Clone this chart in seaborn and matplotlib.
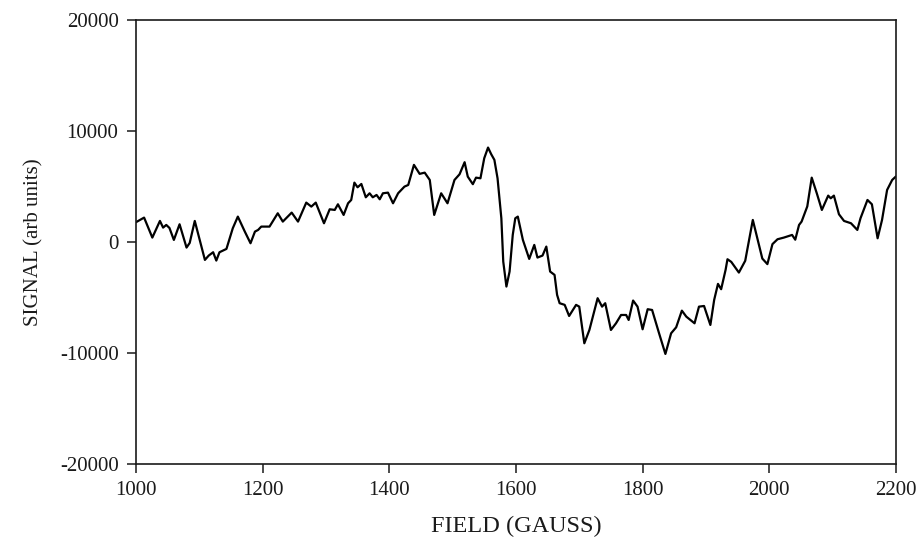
import matplotlib
matplotlib.use("Agg")
import matplotlib.pyplot as plt
import seaborn as sns
import pandas as pd

# Magnetic field sweep (gauss) and recorded signal (arbitrary units)
field = [
    1000, 1013, 1026, 1038, 1043, 1048, 1053, 1060, 1069, 1080, 1085, 1093,
    1109, 1115, 1122, 1127, 1132, 1143, 1153, 1161, 1172, 1181, 1188, 1193,
    1198, 1211, 1224, 1232, 1240, 1246, 1256, 1269, 1277, 1284, 1297, 1306,
    1314, 1319, 1328, 1335, 1340, 1345, 1350, 1356, 1363, 1369, 1374, 1380,
    1385, 1390, 1398, 1406, 1414, 1424, 1430, 1439, 1448, 1456, 1464, 1471,
    1482, 1492, 1503, 1511, 1519, 1524, 1532, 1537, 1544, 1550, 1556, 1561,
    1566, 1571, 1577, 1580, 1585, 1590, 1595, 1599, 1603, 1611, 1621, 1629,
    1634, 1642, 1648, 1654, 1661, 1665, 1669, 1677, 1684, 1695, 1700, 1708,
    1716, 1729, 1736, 1741, 1750, 1758, 1766, 1774, 1778, 1785, 1792, 1800,
    1808, 1815, 1826, 1836, 1845, 1853, 1862, 1869, 1882, 1889, 1897, 1907,
    1913, 1919, 1924, 1931, 1934, 1940, 1952, 1962, 1974, 1989, 1997, 2005,
    2013, 2023, 2033, 2036, 2041, 2047, 2051, 2060, 2067, 2075, 2083, 2093,
    2097, 2102, 2110, 2118, 2129, 2139, 2144, 2155, 2162, 2171, 2178, 2186,
    2194, 2198, 2200,
]
signal = [
    1770, 2190, 390, 1890, 1290, 1530, 1260, 180, 1590, -510, -90, 1890,
    -1620, -1230, -930, -1680, -930, -630, 1230, 2280, 930, -120, 930, 1080,
    1380, 1380, 2580, 1830, 2300, 2640, 1830, 3540, 3180, 3540, 1680, 2940,
    2880, 3390, 2430, 3480, 3780, 5340, 4920, 5220, 4020, 4380, 4020, 4230,
    3840, 4380, 4440, 3480, 4380, 4980, 5130, 6940, 6130, 6240, 5580, 2430,
    4380, 3480, 5580, 6090, 7180, 5880, 5200, 5790, 5730, 7540, 8500, 7900,
    7390, 5730, 2130, -1770, -4020, -2670, 630, 2130, 2280, 180, -1530, -270,
    -1410, -1230, -420, -2670, -2970, -4770, -5520, -5670, -6670, -5670, -5830, -9130,
    -7930, -5070, -5830, -5520, -7930, -7330, -6580, -6580, -7030, -5280, -5830, -7870,
    -6060, -6130, -8230, -10090, -8230, -7690, -6190, -6730, -7330, -5830, -5770, -7480,
    -5220, -3780, -4260, -2520, -1560, -1800, -2760, -1700, 1980, -1500, -2000, -200,
    240, 390, 570, 630, 200, 1530, 1830, 3200, 5790, 4380, 2880, 4170,
    3930, 4170, 2490, 1890, 1680, 1080, 2130, 3780, 3390, 330, 1980, 4680,
    5580, 5790, 5900,
]

x_ticks = [1000, 1200, 1400, 1600, 1800, 2000, 2200]
y_ticks = [-20000, -10000, 0, 10000, 20000]

sns.set_style("white")
plt.rcParams["font.family"] = ["Liberation Serif", "DejaVu Serif"]
plt.rcParams["axes.unicode_minus"] = False

df = pd.DataFrame({"field": field, "signal": signal})

fig = plt.figure(figsize=(9.18, 5.37), dpi=100)
ax = fig.add_axes([0.148, 0.136, 0.828, 0.827])

sns.lineplot(data=df, x="field", y="signal", color="black", linewidth=1.6,
             sort=False, ax=ax)

ax.set_xlim(1000, 2200)
ax.set_ylim(-20000, 20000)
ax.set_xticks(x_ticks)
ax.set_yticks(y_ticks)
ax.set_xticklabels([str(v) for v in x_ticks])
ax.set_yticklabels([str(v) for v in y_ticks])

for side in ["left", "right", "top", "bottom"]:
    ax.spines[side].set_visible(True)
    ax.spines[side].set_color("#1a1a1a")
    ax.spines[side].set_linewidth(1.2)

ax.tick_params(axis="both", direction="out", length=6.5, width=1.1,
               color="#1a1a1a", labelsize=15, labelcolor="#1a1a1a",
               left=True, bottom=True, top=False, right=False)
ax.tick_params(axis="x", pad=6)
ax.tick_params(axis="y", pad=6)

ax.set_xlabel("FIELD (GAUSS)", fontsize=17.5, color="#1a1a1a", labelpad=11)
ax.set_ylabel("SIGNAL (arb units)", fontsize=15, color="#1a1a1a", labelpad=12)

fig.savefig("out.png", dpi=100)
